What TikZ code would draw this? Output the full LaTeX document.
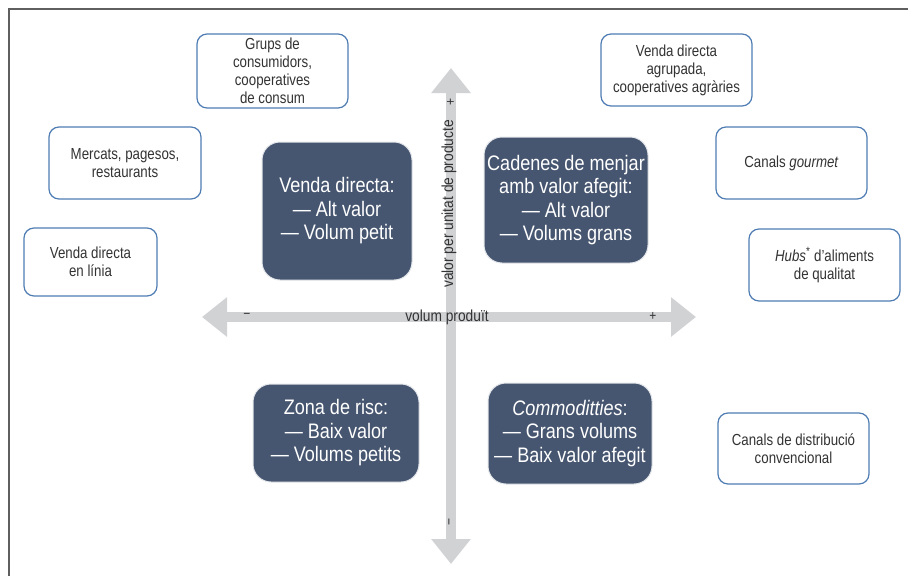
\documentclass[tikz,border=0pt]{standalone}
\usepackage{fontspec}
\setmainfont{Liberation Sans}[FakeStretch=0.86]
\newfontfamily\narrowfont{Liberation Sans}[FakeStretch=0.83]
\usetikzlibrary{arrows.meta}
\definecolor{framegray}{HTML}{5F5F5F}
\definecolor{axisgray}{HTML}{D1D2D4}
\definecolor{darkbox}{HTML}{475670}
\definecolor{boxline}{HTML}{4F7DB3}
\definecolor{txtgray}{HTML}{333333}
\tikzset{
  smallbox/.style={draw=boxline, line width=1.2pt, fill=white, rounded corners=10pt,
    inner sep=0pt, align=center, text=txtgray,
    font=\narrowfont\fontsize{16pt}{18pt}\selectfont},
  bigbox/.style={draw=white!85!darkbox, line width=1pt, fill=darkbox, rounded corners=18pt,
    inner sep=0pt, align=center, text=white,
    font=\fontsize{21pt}{23.5pt}\selectfont},
  axis/.style={draw=axisgray, line width=10pt,
    {Triangle[width=38pt,length=25pt]}-{Triangle[width=38pt,length=25pt]}},
  axlabel/.style={inner sep=0pt, text=txtgray, font=\fontsize{16pt}{18pt}\selectfont},
  signlabel/.style={inner sep=0pt, text=txtgray, font=\fontsize{14pt}{16pt}\selectfont},
}
\begin{document}
\begin{tikzpicture}[x=1pt,y=-1pt]
\useasboundingbox (0,0) rectangle (908,576);
% frame (top and left only)
\coordinate (f1) at (9,9);
\coordinate (f2) at (908,9);
\coordinate (f3) at (9,576);
\draw[framegray, line width=2.5pt] (f2) -- (f1) -- (f3);
% axes
\coordinate (vtop) at (451,68);
\coordinate (vbot) at (451,564);
\coordinate (hleft) at (202,317);
\coordinate (hright) at (696,317);
\draw[axis] (vbot) -- (vtop);
\draw[axis] (hleft) -- (hright);
\node[axlabel] (hl) at (447,317) {volum produït};
\node[signlabel] (hm) at (247,316) {−};
\node[signlabel] (hp) at (653,316) {+};
\node[axlabel, rotate=90] (vl) at (449,204) {valor per unitat de producte};
\node[signlabel, rotate=90] (vp) at (451,102) {+};
\node[signlabel, rotate=90] (vm) at (451,522) {−};
% small boxes
\node[smallbox, minimum width=151pt, minimum height=74pt] (b1) at (272.5,71)
  {Grups de\\consumidors,\\cooperatives\\de consum};
\node[smallbox, minimum width=152pt, minimum height=72pt] (b2) at (125,163)
  {Mercats, pagesos,\\restaurants};
\node[smallbox, minimum width=133pt, minimum height=68pt] (b3) at (90.5,262)
  {Venda directa\\en línia};
\node[smallbox, minimum width=151pt, minimum height=72pt] (b4) at (676.5,70)
  {Venda directa\\agrupada,\\cooperatives agràries};
\node[smallbox, minimum width=151pt, minimum height=72pt] (b5) at (791.5,163)
  {Canals \textit{gourmet}};
\node[smallbox, minimum width=151pt, minimum height=72pt] (b6) at (824.5,265)
  {\textit{Hubs}\textsuperscript{\large *} d’aliments\\de qualitat};
\node[smallbox, minimum width=151pt, minimum height=71pt] (b7) at (793.5,448.5)
  {Canals de distribució\\convencional};
% big boxes
\node[bigbox, minimum width=150pt, minimum height=138pt] (qa) at (337,211)
  {Venda directa:\\— Alt valor\\— Volum petit};
\node[bigbox, minimum width=164pt, minimum height=126pt] (qb) at (566,200)
  {Cadenes de menjar\\amb valor afegit:\\— Alt valor\\— Volums grans};
\node[bigbox, minimum width=166pt, minimum height=98pt] (qc) at (336,433)
  {Zona de risc:\\— Baix valor\\— Volums petits};
\node[bigbox, minimum width=164pt, minimum height=101pt] (qd) at (570,433.5)
  {\textit{Commoditties}:\\— Grans volums\\— Baix valor afegit};
\end{tikzpicture}
\end{document}
